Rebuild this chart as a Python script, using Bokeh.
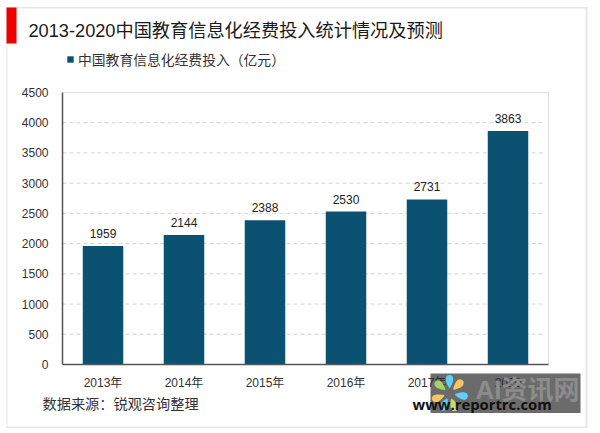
import math
from bokeh.plotting import figure
from bokeh.models import Label, BoxAnnotation, PolyAnnotation, Legend, LegendItem, ColumnDataSource, Range1d, FixedTicker
from bokeh.core.properties import value
from bokeh.embed import file_html
from bokeh.resources import INLINE

years = ["2013年", "2014年", "2015年", "2016年", "2017年", "2020"]
spending = [1959, 2144, 2388, 2530, 2731, 3863]
y_ticks = [0, 500, 1000, 1500, 2000, 2500, 3000, 3500, 4000, 4500]
title_text = "2013-2020中国教育信息化经费投入统计情况及预测"
series_name = "中国教育信息化经费投入（亿元）"
source_text = "数据来源：锐观咨询整理"

FONT = '"Liberation Sans", "Noto Sans CJK SC"'
BAR = "#0b5272"
W, H = 600, 433
PX0, PX1, PY0, PY1 = 62, 548, 364, 92  # plot box in page pixels
STEP = (PX1 - PX0) / len(years)
UNIT = (PY0 - PY1) / y_ticks[-1]

p = figure(width=W, height=H, output_backend="svg", toolbar_location=None,
           x_range=Range1d(-PX0 / STEP, (W - PX0) / STEP),
           y_range=Range1d(-(H - PY0) / UNIT, PY0 / UNIT),
           min_border_left=0, min_border_right=0, min_border_top=0, min_border_bottom=0,
           background_fill_color="white", border_fill_color="white", outline_line_color=None)

xpos = [i + 0.5 for i in range(len(years))]
src = ColumnDataSource(dict(x=xpos, y=spending, t=[str(v) for v in spending]))
p.xgrid.visible = False
p.ygrid.visible = False
p.segment(x0=[0] * (len(y_ticks) - 1), x1=[len(years) - 0.04] * (len(y_ticks) - 1),
          y0=y_ticks[:-1], y1=y_ticks[:-1],
          line_color="#d4d4d4", line_dash="4 3", line_width=1)
# plot box: solid top and right edges
p.segment(x0=[0, len(years)], x1=[len(years), len(years)],
          y0=[y_ticks[-1], 0], y1=[y_ticks[-1], y_ticks[-1]],
          line_color="#dedede", line_width=1)
bars = p.vbar(x="x", top="y", width=0.5, source=src, fill_color=BAR, line_color=None)
p.text(x="x", y="y", text="t", source=src, text_align="center", text_baseline="bottom",
       y_offset=-8, text_font=value(FONT), text_font_size="12px", text_color="#222222")

for ax in (p.xaxis[0], p.yaxis[0]):
    ax.major_tick_line_color = None
    ax.minor_tick_line_color = None
    ax.axis_line_color = "#555555"
    ax.axis_line_width = 1.5
    ax.major_label_text_font = FONT
    ax.major_label_text_font_size = "12px"
    ax.major_label_text_color = "#333333"

p.yaxis.ticker = FixedTicker(ticks=y_ticks)
p.yaxis.fixed_location = 0
p.yaxis.bounds = (0, y_ticks[-1])
p.yaxis.major_label_standoff = 8

p.xaxis.ticker = FixedTicker(ticks=xpos)
p.xaxis.major_label_overrides = dict(zip(xpos, years))
p.xaxis.fixed_location = 0
p.xaxis.bounds = (0, len(years))
p.xaxis.major_label_standoff = 5

legend = Legend(items=[LegendItem(label=series_name, renderers=[bars])],
                location=(66, H - 69), orientation="horizontal",
                border_line_color=None, background_fill_alpha=0,
                padding=0, margin=0, glyph_width=8, glyph_height=8, label_standoff=4,
                label_text_font=FONT, label_text_font_size="13.8px", label_text_color="#333333")
p.add_layout(legend)


def box(l, t, r, b, color, alpha=1.0):
    p.add_layout(BoxAnnotation(left=l, right=r, top=t, bottom=b,
                               left_units="canvas", right_units="canvas",
                               top_units="canvas", bottom_units="canvas",
                               fill_color=color, fill_alpha=alpha, line_color=None))


def label(x, y, text, size, color, font=FONT, style="normal", align="left"):
    p.add_layout(Label(x=x, y=y, x_units="canvas", y_units="canvas", text=text,
                       text_font=font, text_font_size=size, text_color=color,
                       text_font_style=style, text_align=align, text_baseline="middle"))


# card frame
box(6, 6.5, 587, 8, "#e8e8e8")
box(585, 6.5, 587, 427.5, "#e8e8e8")
box(6, 426, 587, 427.5, "#e8e8e8")
box(6, 6.5, 7, 427.5, "#e8e8e8")
# red marker
box(6, 7, 16, 43, "#ee0000")

label(28, 30, title_text, "18.2px", "#1a1a1a")
label(42, 403, source_text, "14.2px", "#333333")

# watermark
box(430, 373, 580, 412.5, "#2c2c2c", 0.7)
label(475, 389, "AI资讯网", "26px", "#8c8c8c", style="bold")

petals = [(0, "#5ecff5"), (45, "#fbc561"), (100, "#5ecff5"), (160, "#c5dc66"),
          (205, "#5ecff5"), (250, "#fbc561"), (310, "#a9cf6a")]
cx, cy = 449, 393
for ang, col in petals:
    a = math.radians(ang - 90)
    ux, uy = math.cos(a), math.sin(a)
    vx, vy = -uy, ux
    xs, ys = [], []
    for k in range(24):
        t = 2 * math.pi * k / 24
        d = 12 + 6.5 * math.cos(t)
        w = 5.2 * math.sin(t) * (0.65 + 0.35 * math.cos(t))
        xs.append(cx + ux * d + vx * w)
        ys.append(cy + uy * d + vy * w)
    p.add_layout(PolyAnnotation(xs=xs, ys=ys, xs_units="canvas", ys_units="canvas",
                                fill_color=col, fill_alpha=1, line_color=None))

label(412, 403, "www.reportrc.com", "14.8px", "#111111", font='"Open Sans"', style="bold")

open("out.html", "w").write(file_html(p, INLINE))
